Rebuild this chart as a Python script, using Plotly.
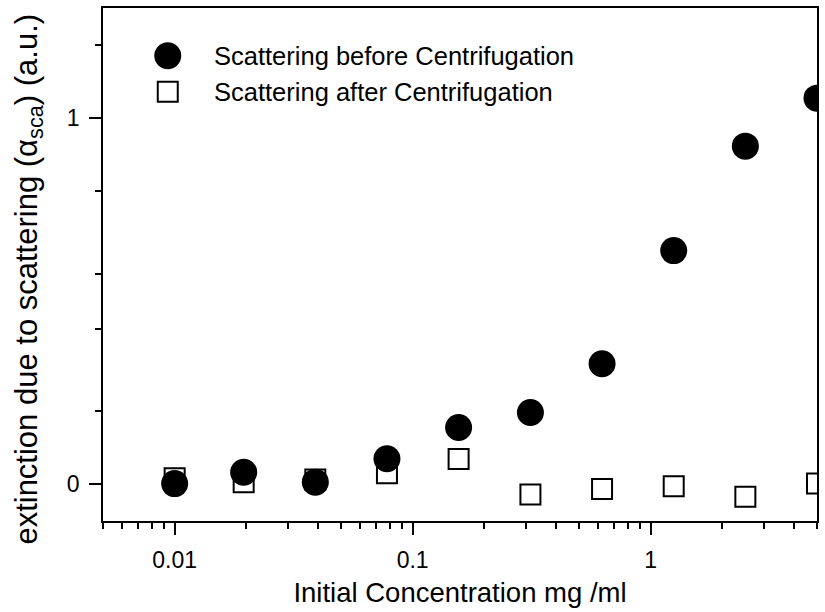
import plotly.graph_objects as go

# Data
concentration = [0.01, 0.0195, 0.039, 0.078, 0.156, 0.3125, 0.625, 1.25, 2.5, 5.0]
scat_before = [0.002, 0.033, 0.006, 0.070, 0.155, 0.196, 0.329, 0.638, 0.923, 1.054]
scat_after = [0.017, 0.006, 0.013, 0.030, 0.069, -0.028, -0.013, -0.005, -0.034, 0.002]

legend_names = ["Scattering before Centrifugation", "Scattering after Centrifugation"]
x_tick_vals = [0.01, 0.1, 1]
x_tick_text = ["0.01", "0.1", "1"]
y_tick_vals = [0, 1]
y_tick_text = ["0", "1"]
y_minor_vals = [0.2, 0.425, 0.575, 0.8, 1.2]
x_minor_vals = [k * 10.0 ** e for e in range(-3, 1) for k in range(2, 10)]
x_title = "Initial Concentration mg /ml"
y_title = "extinction due to scattering (α<sub>sca</sub>) (a.u.)"

FONT = "Liberation Sans, Arial, sans-serif"

fig = go.Figure()

fig.add_trace(go.Scatter(
    x=concentration, y=scat_after, mode="markers", name=legend_names[1],
    marker=dict(symbol="square", size=20, color="white",
                line=dict(color="black", width=2)),
    showlegend=False,
))
fig.add_trace(go.Scatter(
    x=concentration, y=scat_before, mode="markers", name=legend_names[0],
    marker=dict(symbol="circle", size=27, color="black",
                line=dict(width=0)),
    showlegend=False,
))

# Manual legend (symbols on an overlay axis in paper-like units)
legend_x = [0.0907, 0.0907]
legend_y = [0.9068, 0.8369]
fig.add_trace(go.Scatter(
    x=[legend_x[0]], y=[legend_y[0]], xaxis="x2", yaxis="y2", mode="markers",
    marker=dict(symbol="circle", size=27, color="black", line=dict(width=0)),
    showlegend=False, hoverinfo="skip",
))
fig.add_trace(go.Scatter(
    x=[legend_x[1]], y=[legend_y[1]], xaxis="x2", yaxis="y2", mode="markers",
    marker=dict(symbol="square", size=20, color="white",
                line=dict(color="black", width=2)),
    showlegend=False, hoverinfo="skip",
))
for name, ly in zip(legend_names, legend_y):
    fig.add_annotation(
        x=0.153, y=ly, xref="paper", yref="paper", text=name,
        showarrow=False, xanchor="left", yanchor="middle",
        font=dict(family=FONT, size=25.5, color="black"),
    )

# Y axis title as a rotated annotation (offset upward like the reference)
fig.add_annotation(
    x=-0.104, y=0.472, xref="paper", yref="paper", text=y_title,
    textangle=-90, showarrow=False, xanchor="center", yanchor="middle",
    font=dict(family=FONT, size=31, color="black"),
)

fig.update_layout(
    width=825, height=612,
    margin=dict(l=103, r=8, t=6, b=91),
    paper_bgcolor="white", plot_bgcolor="white",
    font=dict(family=FONT, color="black"),
    xaxis=dict(
        type="log", range=[-2.30103, 0.69897],
        tickmode="array", tickvals=x_tick_vals, ticktext=x_tick_text,
        ticks="outside", ticklen=12, tickwidth=1.5, tickcolor="black",
        ticklabelstandoff=6,
        minor=dict(tickmode="array", tickvals=x_minor_vals, ticks="outside",
                   ticklen=6, tickwidth=1.5, tickcolor="black"),
        showline=True, linecolor="black", linewidth=1.5, mirror=True,
        showgrid=False, zeroline=False,
        tickfont=dict(family=FONT, size=23, color="black"),
        title=dict(text=x_title,
                   font=dict(family=FONT, size=27.5, color="black"), standoff=10),
    ),
    yaxis=dict(
        range=[-0.1, 1.3],
        tickmode="array", tickvals=y_tick_vals, ticktext=y_tick_text,
        ticks="outside", ticklen=12, tickwidth=1.5, tickcolor="black",
        ticklabelstandoff=5,
        minor=dict(tickmode="array", tickvals=y_minor_vals, ticks="outside",
                   ticklen=6, tickwidth=1.5, tickcolor="black"),
        showline=True, linecolor="black", linewidth=1.5, mirror=True,
        showgrid=False, zeroline=False,
        tickfont=dict(family=FONT, size=23, color="black"),
    ),
    xaxis2=dict(domain=[0, 1], range=[0, 1], overlaying="x", visible=False,
                fixedrange=True),
    yaxis2=dict(domain=[0, 1], range=[0, 1], overlaying="y", visible=False,
                fixedrange=True),
)

fig.write_html("out.html")
